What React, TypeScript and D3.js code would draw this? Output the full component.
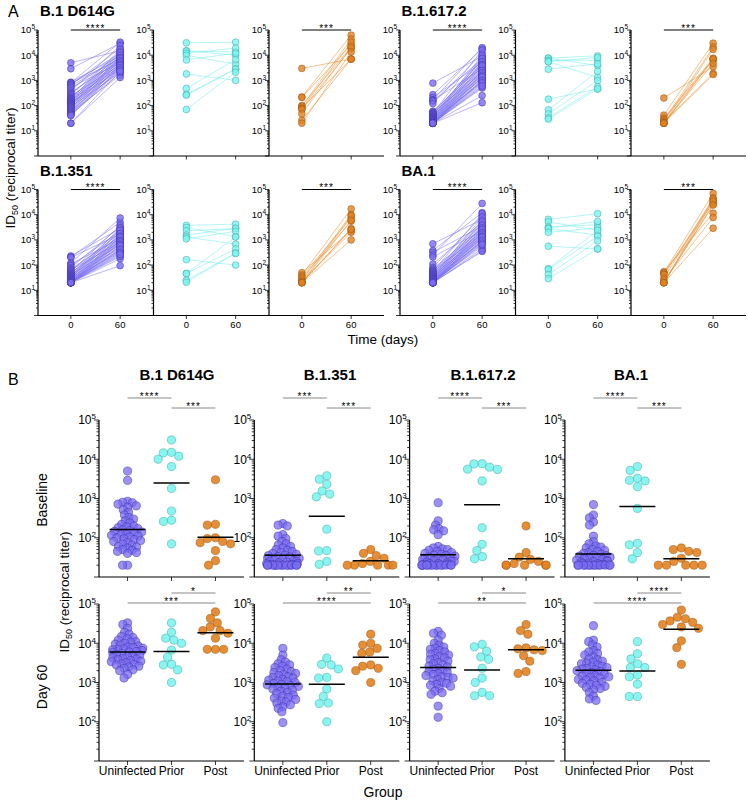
import React from "react";
import * as d3 from "d3";

// ---------------- data ----------------
const variants = ["B.1 D614G", "B.1.351", "B.1.617.2", "BA.1"];
const groups = ["Uninfected", "Prior", "Post"];
const timepoints = [0, 60];
const rowLabelsB = ["Baseline", "Day 60"];

const d614gUninfBase = [5000, 2900, 850, 800, 780, 720, 650, 600, 520, 450, 380, 330, 300, 270, 240, 220, 200, 190, 180, 170, 160, 150, 145, 140, 130, 125, 120, 115, 110, 105, 100, 95, 90, 85, 80, 75, 70, 65, 60, 58, 55, 50, 48, 45, 42, 40, 20, 20];
const d614gUninfDay60 = [33000, 30000, 24000, 19000, 17000, 15000, 14000, 13000, 12000, 11000, 10500, 10000, 9500, 9000, 8500, 8000, 7800, 7500, 7200, 7000, 6800, 6500, 6200, 6000, 5800, 5500, 5200, 5000, 4800, 4500, 4300, 4100, 4000, 3800, 3600, 3500, 3400, 3200, 3000, 2900, 2800, 2600, 2500, 2300, 2100, 2000, 1600, 1300];
const b1351UninfBase = [230, 210, 200, 120, 110, 95, 80, 70, 65, 60, 55, 50, 48, 45, 42, 40, 38, 36, 35, 33, 32, 30, 30, 28, 27, 26, 25, 25, 24, 23, 22, 22, 21, 21, 20, 20, 20, 20, 20, 20, 20, 20, 20, 20, 20, 20, 20, 20];
const b1351UninfDay60 = [7400, 5000, 3800, 3300, 3000, 2800, 2600, 2400, 2200, 2000, 1900, 1800, 1700, 1600, 1500, 1400, 1350, 1300, 1200, 1150, 1100, 1050, 1000, 950, 900, 870, 830, 800, 760, 720, 680, 640, 600, 560, 520, 480, 450, 420, 400, 370, 340, 320, 300, 270, 240, 220, 180, 95];
const b16172UninfBase = [780, 270, 210, 170, 160, 150, 120, 60, 55, 52, 50, 48, 45, 42, 40, 38, 36, 35, 34, 32, 30, 30, 29, 28, 27, 26, 25, 25, 24, 23, 22, 22, 21, 21, 20, 20, 20, 20, 20, 20, 20, 20, 20, 20, 20, 20, 20, 20];
const b16172UninfDay60 = [20000, 18000, 16000, 12000, 10000, 9000, 8000, 7500, 7000, 6500, 6000, 5500, 5200, 5000, 4600, 4300, 4000, 3800, 3500, 3200, 3000, 2800, 2600, 2500, 2300, 2200, 2000, 1900, 1800, 1700, 1600, 1500, 1400, 1350, 1300, 1200, 1100, 1000, 950, 900, 850, 800, 700, 600, 550, 500, 250, 130];
const ba1UninfBase = [700, 380, 320, 250, 210, 110, 80, 70, 62, 58, 55, 50, 48, 45, 42, 40, 38, 36, 35, 34, 32, 31, 30, 29, 28, 27, 26, 25, 25, 24, 23, 22, 22, 21, 21, 20, 20, 20, 20, 20, 20, 20, 20, 20, 20, 20, 20, 20];
const ba1UninfDay60 = [28000, 12000, 11000, 9000, 8000, 6500, 6000, 5500, 5000, 4500, 4000, 3800, 3500, 3300, 3100, 3000, 2800, 2600, 2500, 2400, 2300, 2200, 2100, 2000, 1900, 1800, 1700, 1600, 1500, 1450, 1400, 1350, 1300, 1200, 1150, 1100, 1000, 950, 900, 850, 800, 750, 700, 650, 550, 450, 380, 350];

const d614gPriorBase = [31000, 15000, 14500, 12000, 10000, 6500, 1800, 480, 280, 260, 70];
const d614gPriorDay60 = [33000, 19000, 13500, 12000, 10000, 6700, 4400, 2900, 2800, 2100, 1000];
const d614gPostBase = [3000, 220, 210, 100, 95, 80, 75, 70, 47, 26, 20];
const d614gPostDay60 = [63000, 43000, 33000, 26000, 21000, 21000, 18000, 13500, 7000, 7000, 7000];

const b1351PriorBase = [3800, 3100, 2300, 1550, 1300, 1100, 165, 47, 46, 25, 21];
const b1351PriorDay60 = [4200, 2900, 2800, 2200, 1350, 1300, 680, 440, 300, 290, 100];
const b1351PostBase = [50, 40, 35, 30, 25, 22, 20, 20, 20, 20, 20];
const b1351PostDay60 = [17000, 10000, 9000, 7400, 6000, 5500, 2800, 2600, 2300, 2000, 1000];

const b16172PriorBase = [7700, 7600, 6300, 5600, 5500, 2800, 180, 68, 47, 33, 29];
const b16172PriorDay60 = [9400, 8100, 6300, 4500, 3900, 2300, 1300, 1000, 560, 460, 460];
const b16172PostBase = [200, 42, 32, 28, 25, 22, 20, 20, 20, 20, 20];
const b16172PostDay60 = [30000, 21000, 17000, 7600, 7200, 6800, 6500, 4800, 3500, 1900, 1700];

const ba1PriorBase = [6500, 5200, 3300, 2900, 2800, 2000, 560, 72, 66, 42, 29];
const ba1PriorDay60 = [11000, 5400, 4000, 3000, 2400, 2400, 1550, 1400, 910, 440, 440];
const ba1PostBase = [55, 50, 45, 42, 30, 25, 20, 20, 20, 20, 20];
const ba1PostDay60 = [70000, 46000, 42000, 37000, 34000, 30000, 26000, 24000, 11500, 7700, 2900];

// subject pairing: baseline rank i -> day-60 rank pairing[i]
const uninfPairing = [5, 1, 12, 0, 20, 8, 3, 16, 27, 10, 2, 22, 14, 6, 31, 18, 9, 25, 4, 35, 13, 29, 7, 19, 40, 11, 24, 33, 15, 38, 21, 17, 44, 28, 23, 36, 26, 42, 30, 34, 46, 32, 39, 45, 37, 41, 47, 43];
const priorPairing = [0, 4, 2, 1, 6, 3, 10, 5, 7, 8, 9];
const postPairing = [8, 0, 3, 5, 1, 9, 2, 6, 4, 10, 7];

const sigAUninfected = ["****", "****", "****", "****"];
const sigAPost = ["***", "***", "***", "***"];
const sigBaseUninfPrior = ["****", "***", "****", "****"];
const sigBasePriorPost = ["***", "***", "***", "***"];
const sigDay60PriorPost = ["*", "**", "*", "****"];
const sigDay60UninfPost = ["***", "****", "**", "****"];

const baseData: number[][][] = [
  [d614gUninfBase, d614gPriorBase, d614gPostBase],
  [b1351UninfBase, b1351PriorBase, b1351PostBase],
  [b16172UninfBase, b16172PriorBase, b16172PostBase],
  [ba1UninfBase, ba1PriorBase, ba1PostBase],
];
const day60Data: number[][][] = [
  [d614gUninfDay60, d614gPriorDay60, d614gPostDay60],
  [b1351UninfDay60, b1351PriorDay60, b1351PostDay60],
  [b16172UninfDay60, b16172PriorDay60, b16172PostDay60],
  [ba1UninfDay60, ba1PriorDay60, ba1PostDay60],
];
const pairings = [uninfPairing, priorPairing, postPairing];

// ---------------- style ----------------
const FONT = "'Liberation Sans', Arial, Helvetica, sans-serif";
const COLORS = [
  { fill: "#7a6cf2", stroke: "#3c31a8", line: "#7d72f4" },
  { fill: "#7cf4f0", stroke: "#3aa5a2", line: "#74ecee" },
  { fill: "#e2821f", stroke: "#985312", line: "#e98c2c" },
];
const titleCentersB = [177, 330, 483, 631];

function beeswarm(ys: number[], diam: number, maxHalf: number): number[] {
  const order = d3.range(ys.length).sort((a, b) => ys[a] - ys[b]);
  const placed: { x: number; y: number }[] = [];
  const out = new Array(ys.length).fill(0);
  for (const i of order) {
    const y = ys[i];
    const near = placed.filter((p) => Math.abs(p.y - y) < diam);
    const cands = [0];
    near.forEach((p) => {
      const dx = Math.sqrt(diam * diam - (p.y - y) ** 2);
      cands.push(p.x - dx, p.x + dx);
    });
    cands.sort((a, b) => Math.abs(a) - Math.abs(b));
    let x = 0;
    for (const c of cands) {
      if (near.every((p) => (p.x - c) ** 2 + (p.y - y) ** 2 >= diam * diam - 1e-6)) {
        x = c;
        break;
      }
    }
    placed.push({ x, y });
    let fx = x;
    if (Math.abs(fx) > maxHalf) {
      const s = Math.sign(fx);
      const over = (Math.abs(fx) - maxHalf) % (2 * maxHalf);
      fx = s * (maxHalf - over);
    }
    out[i] = fx;
  }
  return out;
}

function LogYAxis({ x, y, fs, sup, maj, min, gap, base }: any) {
  const [lo, hi] = y.domain();
  const e0 = Math.round(Math.log10(lo));
  const e1 = Math.round(Math.log10(hi));
  const ticks: any[] = [];
  for (let e = e0; e < e1; e++) {
    for (let m = 1; m <= 9; m++) {
      const v = m * Math.pow(10, e);
      ticks.push({ v, major: m === 1, e });
    }
  }
  ticks.push({ v: Math.pow(10, e1), major: true, e: e1 });
  return (
    <g>
      <line x1={x} x2={x} y1={y(lo)} y2={y(hi)} stroke="#000" strokeWidth={1.2} />
      {ticks.map((t, i) => (
        <line key={i} x1={x - (t.major ? maj : min)} x2={x} y1={y(t.v)} y2={y(t.v)} stroke="#000" strokeWidth={0.8} />
      ))}
      {ticks
        .filter((t) => t.major && t.e > e0 - (base ? 0 : 0) && t.e >= 1 && t.v > lo)
        .map((t, i) => (
          <text key={"l" + i} x={x - gap} y={y(t.v) + fs * 0.36} textAnchor="end" fontSize={fs}>
            10
            <tspan dy={-fs * 0.42} fontSize={sup}>
              {t.e}
            </tspan>
          </text>
        ))}
    </g>
  );
}

function Sig({ x1, x2, y, label, color }: any) {
  return (
    <g>
      <line x1={x1} x2={x2} y1={y} y2={y} stroke={color} strokeWidth={1} />
      <text x={(x1 + x2) / 2} y={y + 1.5} textAnchor="middle" fontSize={10} letterSpacing={1}>
        {label}
      </text>
    </g>
  );
}

function PanelA() {
  const rows = [
    [0, 2],
    [1, 3],
  ];
  const out: any[] = [];
  rows.forEach((row, r) => {
    const top = 30 + r * 159.5;
    const bottom = top + 126;
    row.forEach((v, g) => {
      const gLeft = 38 + g * 362;
      out.push(
        <text key={`t${r}${g}`} x={40 + g * 361.5} y={16 + r * 159.5} fontSize={15} fontWeight="bold">
          {variants[v]}
        </text>
      );
      out.push(
        <line key={`xa${r}${g}`} x1={gLeft} x2={gLeft + 2 * 115.5 + 115} y1={bottom} y2={bottom} stroke="#000" strokeWidth={1.2} />
      );
      groups.forEach((_, k) => {
        const left = gLeft + k * 115.5;
        const x = d3.scaleLinear().domain([-40, 100]).range([left, left + 115]);
        const y = d3.scaleLog().domain([1, 1e5]).range([bottom, top]);
        const b = baseData[v][k];
        const d = day60Data[v][k];
        const pr = pairings[k];
        const c = COLORS[k];
        const pts60 = b.map((_, i) => d[pr[i]]);
        out.push(
          <g key={`p${r}${g}${k}`}>
            <LogYAxis x={left} y={y} fs={9.5} sup={6.5} maj={4} min={2} gap={3} />
            {timepoints.map((t) => (
              <line key={t} x1={x(t)} x2={x(t)} y1={bottom} y2={bottom + 3.5} stroke="#000" strokeWidth={0.8} />
            ))}
            {r === 1 &&
              timepoints.map((t) => (
                <text key={"tl" + t} x={x(t)} y={bottom + 12} textAnchor="middle" fontSize={9.5}>
                  {t}
                </text>
              ))}
            {b.map((bv, i) => (
              <line key={"ln" + i} x1={x(0)} y1={y(bv)} x2={x(60)} y2={y(pts60[i])} stroke={c.line} strokeWidth={0.7} opacity={0.75} />
            ))}
            {b.map((bv, i) => (
              <circle key={"c0" + i} cx={x(0)} cy={y(bv)} r={3.4} fill={c.fill} fillOpacity={0.8} stroke={c.stroke} strokeWidth={0.5} />
            ))}
            {pts60.map((dv, i) => (
              <circle key={"c1" + i} cx={x(60)} cy={y(dv)} r={3.4} fill={c.fill} fillOpacity={0.8} stroke={c.stroke} strokeWidth={0.5} />
            ))}
            {k === 0 && <Sig x1={x(0)} x2={x(60)} y={top} label={sigAUninfected[v]} color="#000" />}
            {k === 2 && <Sig x1={x(0)} x2={x(60)} y={top} label={sigAPost[v]} color="#000" />}
          </g>
        );
      });
    });
  });
  return <g>{out}</g>;
}

function PanelB() {
  const out: any[] = [];
  const rowTops = [420, 604];
  variants.forEach((name, c) => {
    out.push(
      <text key={"bt" + c} x={titleCentersB[c]} y={380} textAnchor="middle" fontSize={15} fontWeight="bold">
        {name}
      </text>
    );
    rowTops.forEach((top, r) => {
      const left = 99 + c * 155.3;
      const bottom = top + 157;
      const x = d3.scalePoint().domain(groups).range([left, left + 145]).padding(0.65);
      const y = d3.scaleLog().domain([10, 1e5]).range([bottom, top]);
      const dataset = r === 0 ? baseData[c] : day60Data[c];
      const items: any[] = [];
      groups.forEach((gname, k) => {
        const vals = dataset[k];
        const ys = vals.map((v) => y(v));
        const offs = k === 0 ? beeswarm(ys, 5, 17) : beeswarm(ys, 8.2, 24);
        const col = COLORS[k];
        const cx = x(gname) as number;
        vals.forEach((v, i) => {
          items.push(
            <circle key={`pt${k}-${i}`} cx={cx + offs[i]} cy={ys[i]} r={4.1} fill={col.fill} fillOpacity={k === 0 ? 0.75 : 0.9} stroke={col.stroke} strokeWidth={0.5} />
          );
        });
        const gm = Math.pow(10, d3.mean(vals, (v) => Math.log10(v)) as number);
        items.push(<line key={`gm${k}`} x1={cx - 18} x2={cx + 18} y1={y(gm)} y2={y(gm)} stroke="#000" strokeWidth={1.5} />);
      });
      const xu = x("Uninfected") as number;
      const xp = x("Prior") as number;
      const xo = x("Post") as number;
      out.push(
        <g key={`b${r}${c}`}>
          <LogYAxis x={left} y={y} fs={12} sup={8} maj={5} min={2.5} gap={3} />
          <line x1={left} x2={left + 145} y1={bottom} y2={bottom} stroke="#000" strokeWidth={1.2} />
          {groups.map((gname) => (
            <line key={gname} x1={x(gname) as number} x2={x(gname) as number} y1={bottom} y2={bottom + 4} stroke="#000" strokeWidth={0.8} />
          ))}
          {r === 1 &&
            groups.map((gname) => (
              <text key={"l" + gname} x={x(gname) as number} y={bottom + 14} textAnchor="middle" fontSize={12}>
                {gname}
              </text>
            ))}
          {items}
          {r === 0 && (
            <>
              <Sig x1={xu} x2={xp} y={top - 22} label={sigBaseUninfPrior[c]} color="#888" />
              <Sig x1={xp} x2={xo} y={top - 12} label={sigBasePriorPost[c]} color="#888" />
            </>
          )}
          {r === 1 && (
            <>
              <Sig x1={xp} x2={xo} y={top - 11} label={sigDay60PriorPost[c]} color="#888" />
              <Sig x1={xu} x2={xo} y={top - 1} label={sigDay60UninfPost[c]} color="#888" />
            </>
          )}
        </g>
      );
    });
  });
  return <g>{out}</g>;
}

function YLabel({ x, y }: any) {
  return (
    <text transform={`translate(${x},${y}) rotate(-90)`} textAnchor="middle" fontSize={13.5}>
      ID
      <tspan fontSize={9} dy={3}>
        50
      </tspan>
      <tspan dy={-3}> (reciprocal titer)</tspan>
    </text>
  );
}

export default function App() {
  return (
    <svg width={748} height={801} style={{ position: "absolute", left: 0, top: 0, background: "#fff" }} fontFamily={FONT}>
      <rect width={748} height={801} fill="#fff" />
      <text x={8} y={17} fontSize={16}>A</text>
      <text x={8} y={385} fontSize={16}>B</text>
      <PanelA />
      <YLabel x={15} y={168} />
      <text x={383} y={344} textAnchor="middle" fontSize={13.5}>Time (days)</text>
      <PanelB />
      {rowLabelsB.map((t, i) => (
        <text key={t} transform={`translate(${47},${[500, 687][i]}) rotate(-90)`} textAnchor="middle" fontSize={14}>
          {t}
        </text>
      ))}
      <YLabel x={69} y={592} />
      <text x={383} y={797} textAnchor="middle" fontSize={14}>Group</text>
    </svg>
  );
}
